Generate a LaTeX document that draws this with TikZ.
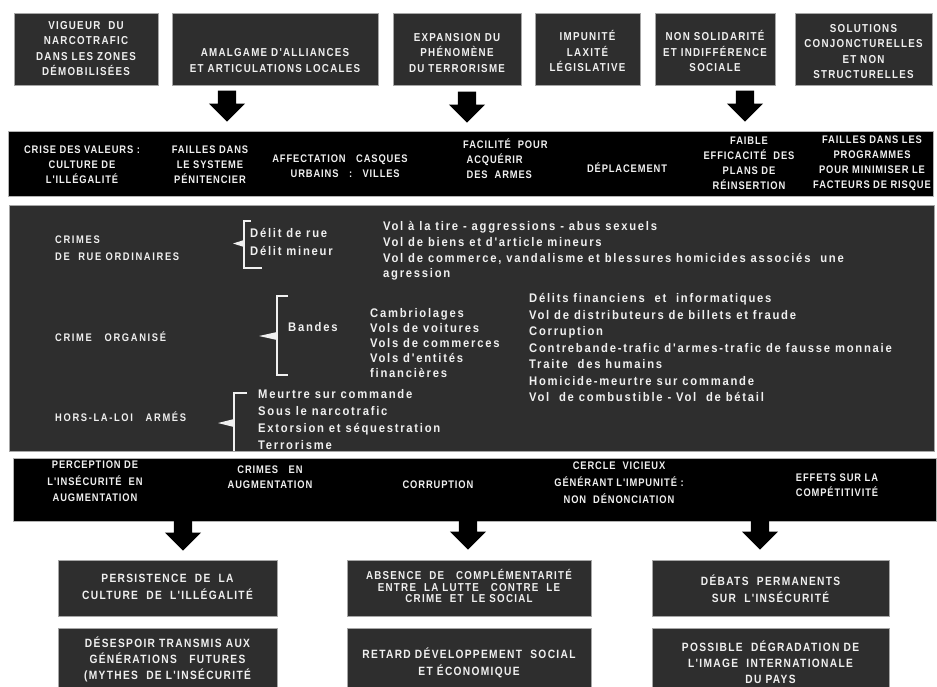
\documentclass[tikz,border=0pt]{standalone}
\usepackage{fontspec}
\setmainfont{Liberation Sans}
\newfontfamily\capsfont[FakeStretch=0.85, LetterSpace=11]{Liberation Sans}
\newfontfamily\bandfont[FakeStretch=0.85, LetterSpace=8]{Liberation Sans}
\newfontfamily\headfont[FakeStretch=0.85, LetterSpace=15]{Liberation Sans}
\newfontfamily\listfont[FakeStretch=0.9, LetterSpace=14]{Liberation Sans}
\usetikzlibrary{shapes.arrows}
\definecolor{boxgray}{HTML}{2E2E2E}
\definecolor{inkwhite}{HTML}{F0F0F0}
\begin{document}
\begin{tikzpicture}[x=1pt,y=-1pt,
  box/.style={fill=boxgray, draw=gray!70, line width=0.6pt, inner sep=0pt},
  band/.style={fill=black, draw=gray!60, line width=0.8pt, inner sep=0pt},
  boxtext/.style={text=inkwhite, align=center, inner sep=0pt,
    font=\capsfont\bfseries\fontsize{11.5}{15.5}\selectfont},
  lowtext/.style={boxtext, font=\capsfont\bfseries\fontsize{12}{17}\selectfont},
  bandtext/.style={text=inkwhite, align=center, inner sep=0pt,
    font=\bandfont\bfseries\fontsize{11}{15}\selectfont},
  headtext/.style={text=inkwhite, align=left, anchor=west, inner sep=0pt,
    font=\headfont\bfseries\fontsize{11}{17}\selectfont},
  listtext/.style={text=inkwhite, align=left, anchor=west, inner sep=0pt,
    font=\listfont\bfseries\fontsize{12.5}{15.7}\selectfont},
  downarrow/.style={single arrow, shape border rotate=270, fill=black, draw=none,
    inner xsep=9pt, inner ysep=0pt, minimum width=36pt, minimum height=31pt,
    single arrow head extend=9pt, anchor=tip},
  bracket/.style={draw=inkwhite, line width=1.4pt},
  pointer/.style={fill=inkwhite}
]
\useasboundingbox[fill=white] (0,0) rectangle (937,686);

% ---------- causes (top row) ----------
\node[box, minimum width=144pt, minimum height=72pt] (t1) at (86,49) {};
\node[box, minimum width=206pt, minimum height=72pt] (t2) at (275,49) {};
\node[box, minimum width=128pt, minimum height=72pt] (t3) at (457,49) {};
\node[box, minimum width=105pt, minimum height=72pt] (t4) at (587.5,49) {};
\node[box, minimum width=120pt, minimum height=72pt] (t5) at (715,49) {};
\node[box, minimum width=137pt, minimum height=72pt] (t6) at (863.5,49) {};

\node[boxtext] (t1txt) at (86,48.5) {VIGUEUR\ \ DU\\NARCOTRAFIC\\DANS LES ZONES\\DÉMOBILISÉES};
\node[boxtext] (t2txt) at (275,60.5) {AMALGAME D'ALLIANCES\\ET ARTICULATIONS LOCALES};
\node[boxtext] (t3txt) at (457,53) {EXPANSION DU\\PHÉNOMÈNE\\DU TERRORISME};
\node[boxtext] (t4txt) at (587.5,51) {IMPUNITÉ\\LAXITÉ\\LÉGISLATIVE};
\node[boxtext] (t5txt) at (715,51) {NON SOLIDARITÉ\\ET INDIFFÉRENCE\\SOCIALE};
\node[boxtext] (t6txt) at (863.5,51.5) {SOLUTIONS\\CONJONCTURELLES\\ET NON\\STRUCTURELLES};

\node[downarrow] (a1) at (227,122) {};
\node[downarrow] (a2) at (467,123) {};
\node[downarrow] (a3) at (745,122) {};

% ---------- aggravating factors ----------
\node[band, minimum width=925pt, minimum height=65pt] (band1) at (470.5,163.5) {};
\node[bandtext] (f1) at (82,165) {CRISE DES VALEURS :\\CULTURE DE\\L'ILLÉGALITÉ};
\node[bandtext] (f2) at (210,165) {FAILLES DANS\\LE SYSTEME\\PÉNITENCIER};
\node[bandtext] (f3) at (340,166) {AFFECTATION\ \ \ CASQUES\\\ \ \ URBAINS\ \ \ :\ \ \ VILLES};
\node[bandtext, align=left, anchor=west] (f4) at (463,159) {FACILITÉ\ \ POUR\\\ ACQUÉRIR\\\ DES\ \ ARMES};
\node[bandtext] (f5) at (627,168) {DÉPLACEMENT};
\node[bandtext] (f6) at (749,163) {FAIBLE\\EFFICACITÉ\ \ DES\\PLANS DE\\RÉINSERTION};
\node[bandtext] (f7) at (872,163) {FAILLES DANS LES\\PROGRAMMES\\POUR MINIMISER LE\\FACTEURS DE RISQUE};

% ---------- types of crime ----------
\node[box, minimum width=925pt, minimum height=246pt] (panel) at (471.5,328) {};

\node[headtext] (h1) at (55,248.5) {CRIMES\\DE\ \ RUE ORDINAIRES};
\node[headtext] (h2) at (55,337) {CRIME\ \ \ ORGANISÉ};
\node[headtext] (h3) at (55,417) {HORS-LA-LOI\ \ \ ARMÉS};

% street crime
\draw[bracket] (251,221) -- (244,221) -- (244,268) -- (262,268);
\fill[pointer] (244,240) -- (233,243.5) -- (244,247) -- cycle;
\node[listtext] (d1) at (250,233) {Délit de rue};
\node[listtext] (d2) at (250,251) {Délit mineur};
\node[listtext] (l1) at (383,251) {Vol à la tire - aggressions - abus sexuels\\
  Vol de biens et d'article mineurs\\
  Vol de commerce, vandalisme et blessures homicides associés\ \ une\\
  agression};

% organised crime
\draw[bracket] (288,296) -- (277,296) -- (277,375) -- (288,375);
\fill[pointer] (277,332) -- (259,336) -- (277,340) -- cycle;
\node[listtext] (g1) at (288,327) {Bandes};
\node[listtext, font=\listfont\bfseries\fontsize{12.5}{15}\selectfont] (l2) at (370,343) {Cambriolages\\Vols de voitures\\Vols de commerces\\Vols d'entités\\financières};
\node[listtext, font=\listfont\bfseries\fontsize{12.5}{16.5}\selectfont] (l3) at (529,347.5) {Délits financiens\ \ et\ \ informatiques\\
  Vol de distributeurs de billets et fraude\\
  Corruption\\
  Contrebande-trafic d'armes-trafic de fausse monnaie\\
  Traite\ \ des humains\\
  Homicide-meurtre sur commande\\
  Vol\ \ de combustible - Vol\ \ de bétail};

% armed outlaws
\draw[bracket] (247,393) -- (234,393) -- (234,451);
\fill[pointer] (234,419) -- (218,423) -- (234,427) -- cycle;
\node[listtext, font=\listfont\bfseries\fontsize{12.5}{17}\selectfont] (l4) at (258,420) {Meurtre sur commande\\Sous le narcotrafic\\Extorsion et séquestration\\Terrorisme};

% ---------- effects ----------
\node[band, minimum width=923pt, minimum height=63pt] (band2) at (474.5,489.5) {};
\node[bandtext, font=\bandfont\bfseries\fontsize{11}{16.5}\selectfont] (e1) at (95,481.5) {PERCEPTION DE\\L'INSÉCURITÉ\ \ EN\\AUGMENTATION};
\node[bandtext] (e2) at (270,477.5) {CRIMES\ \ \ EN\\AUGMENTATION};
\node[bandtext] (e3) at (438,485) {CORRUPTION};
\node[bandtext, font=\bandfont\bfseries\fontsize{11}{17}\selectfont] (e4) at (619,483) {CERCLE\ \ VICIEUX\\GÉNÉRANT L'IMPUNITÉ :\\NON\ \ DÉNONCIATION};
\node[bandtext] (e5) at (837,485.5) {EFFETS SUR LA\\COMPÉTITIVITÉ};

\node[downarrow] (a4) at (183,551) {};
\node[downarrow] (a5) at (468,550) {};
\node[downarrow] (a6) at (760,550) {};

% ---------- consequences ----------
\node[box, minimum width=219pt, minimum height=56pt] (b1) at (167.5,588) {};
\node[box, minimum width=244pt, minimum height=56pt] (b2) at (469,588) {};
\node[box, minimum width=237pt, minimum height=56pt] (b3) at (770.5,588) {};
\node[box, minimum width=219pt, minimum height=62pt] (c1) at (167.5,659) {};
\node[box, minimum width=244pt, minimum height=62pt] (c2) at (469,659) {};
\node[box, minimum width=237pt, minimum height=62pt] (c3) at (770.5,659) {};

\node[lowtext] (b1txt) at (167.5,586.5) {PERSISTENCE\ \ DE\ \ LA\\CULTURE\ \ DE\ \ L'ILLÉGALITÉ};
\node[lowtext, font=\capsfont\bfseries\fontsize{11.5}{11.5}\selectfont] (b2txt) at (469,586) {ABSENCE\ \ DE\ \ \ COMPLÉMENTARITÉ\\ENTRE\ \ LA LUTTE\ \ \ CONTRE\ \ LE\\CRIME\ \ ET\ \ LE SOCIAL};
\node[lowtext] (b3txt) at (770.5,588.5) {DÉBATS\ \ PERMANENTS\\SUR\ \ L'INSÉCURITÉ};
\node[lowtext, font=\capsfont\bfseries\fontsize{12}{16}\selectfont] (c1txt) at (167.5,659) {DÉSESPOIR TRANSMIS AUX\\GÉNÉRATIONS\ \ \ FUTURES\\(MYTHES\ \ DE L'INSÉCURITÉ};
\node[lowtext] (c2txt) at (469,662.5) {RETARD DÉVELOPPEMENT\ \ SOCIAL\\ET ÉCONOMIQUE};
\node[lowtext, font=\capsfont\bfseries\fontsize{12}{16}\selectfont] (c3txt) at (770.5,662) {POSSIBLE\ \ DÉGRADATION DE\\L'IMAGE\ \ INTERNATIONALE\\DU PAYS};
\end{tikzpicture}
\end{document}
